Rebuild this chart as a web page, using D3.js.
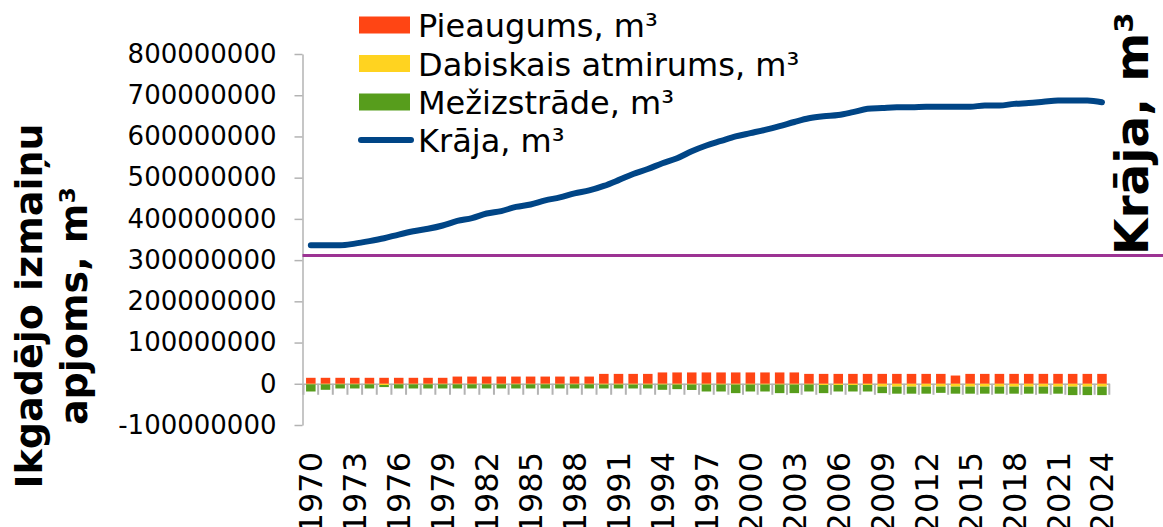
<!DOCTYPE html>
<html>
<head>
<meta charset="utf-8">
<script src="https://cdnjs.cloudflare.com/ajax/libs/d3/7.8.5/d3.min.js"></script>
<style>
    body { margin: 0; background: #ffffff; }
    svg { display: block; font-family: "DejaVu Sans", Verdana, sans-serif; }
</style>
</head>
<body>
<div id="chart"></div>
<script>
// 数据：年份（类别）
const years = [1970, 1971, 1972, 1973, 1974, 1975, 1976, 1977, 1978, 1979,
    1980, 1981, 1982, 1983, 1984, 1985, 1986, 1987, 1988, 1989,
    1990, 1991, 1992, 1993, 1994, 1995, 1996, 1997, 1998, 1999,
    2000, 2001, 2002, 2003, 2004, 2005, 2006, 2007, 2008, 2009,
    2010, 2011, 2012, 2013, 2014, 2015, 2016, 2017, 2018, 2019,
    2020, 2021, 2022, 2023, 2024];

// 每3年显示一个刻度标签
const labelYears = [1970, 1973, 1976, 1979, 1982, 1985, 1988, 1991, 1994, 1997,
    2000, 2003, 2006, 2009, 2012, 2015, 2018, 2021, 2024];

// Y轴刻度
const yTicks = [-100000000, 0, 100000000, 200000000, 300000000, 400000000,
    500000000, 600000000, 700000000, 800000000];

// Pieaugums, m³
const pieaugums = [14500000, 14500000, 14500000, 14500000, 14500000, 14500000, 14500000, 14500000, 14500000, 14500000,
    17500000, 17500000, 17500000, 17500000, 17500000, 17500000, 17500000, 17500000, 17500000, 17500000,
    24000000, 24000000, 24000000, 24000000, 27500000, 27500000, 27500000, 27500000, 27500000, 27500000,
    27500000, 27500000, 27500000, 27500000, 24000000, 24000000, 24000000, 24000000, 24000000, 24000000,
    24000000, 24000000, 24000000, 24000000, 20000000, 24000000, 24000000, 24000000, 24000000, 24000000,
    24000000, 24000000, 24000000, 24000000, 24000000];

// Dabiskais atmirums, m³
const atmirums = [-1500000, -1500000, -1500000, -1500000, -1500000, -3000000, -1500000, -1500000, -1500000, -1500000,
    -1500000, -1500000, -1500000, -1500000, -1500000, -1500000, -1500000, -1500000, -1500000, -1500000,
    -2000000, -2000000, -2000000, -2000000, -2000000, -2000000, -2000000, -2000000, -2000000, -2000000,
    -2000000, -2000000, -2000000, -2000000, -2000000, -3000000, -3000000, -3000000, -3000000, -7000000,
    -7000000, -7000000, -7000000, -7000000, -7000000, -7000000, -7000000, -7000000, -7000000, -7000000,
    -7000000, -7000000, -7000000, -7000000, -7000000];

// Mežizstrāde, m³
const mezizstrade = [-17200000, -13100000, -9900000, -9900000, -9900000, -5000000, -9900000, -9900000, -9900000, -9900000,
    -9900000, -9900000, -9900000, -9900000, -9900000, -9900000, -9900000, -9900000, -9900000, -9900000,
    -9400000, -9400000, -9400000, -9400000, -12600000, -11000000, -13000000, -16700000, -16700000, -20700000,
    -16700000, -16700000, -20700000, -20700000, -16700000, -19700000, -15700000, -15700000, -15700000, -15700000,
    -17000000, -17000000, -17000000, -15000000, -17000000, -17000000, -17000000, -17000000, -17000000, -17000000,
    -17000000, -17000000, -20500000, -20500000, -20500000];

// Krāja, m³
const kraja = [336000000, 336000000, 336000000, 340000000, 346000000, 353000000, 362000000, 370000000, 376000000, 384000000,
    395000000, 402000000, 413000000, 419000000, 429000000, 435000000, 445000000, 452000000, 462000000, 469000000,
    480000000, 494000000, 509000000, 521000000, 535000000, 547000000, 564000000, 578000000, 589000000, 600000000,
    608000000, 616000000, 625000000, 635000000, 644000000, 649000000, 652000000, 659000000, 667000000, 669000000,
    671000000, 671000000, 672000000, 672000000, 672000000, 672000000, 675000000, 675000000, 679000000, 681000000,
    684000000, 687000000, 687000000, 687000000, 683000000];

// 右侧（Krāja）轴的水平线位置
const krajaAssLinija = 311000000;

// 系列名称和颜色
const seriesKeys = ["pieaugums", "atmirums", "mezizstrade"];
const seriesNames = ["Pieaugums, m³", "Dabiskais atmirums, m³", "Mežizstrāde, m³"];
const seriesColors = ["#ff4514", "#ffd320", "#579d1c"];
const lineName = "Krāja, m³";
const lineColor = "#004586";

function drawChart(container) {
    d3.select(container).html("");

    const width = 1163, height = 527;
    const axisColor = "#b3b3b3";

    // 创建SVG
    const svg = d3.select(container)
        .append("svg")
        .attr("width", width)
        .attr("height", height);

    // X轴比例尺
    const x = d3.scaleBand()
        .domain(years)
        .range([303.5, 1109.3])
        .paddingInner(0.35)
        .paddingOuter(0.175);

    // Y轴比例尺
    const y = d3.scaleLinear()
        .domain([-100000000, 800000000])
        .range([425, 54]);

    // 堆叠数据
    const table = years.map((yr, i) => ({
        year: yr,
        pieaugums: pieaugums[i],
        atmirums: atmirums[i],
        mezizstrade: mezizstrade[i]
    }));
    const stacked = d3.stack()
        .keys(seriesKeys)
        .offset(d3.stackOffsetDiverging)(table);

    // Y轴
    const yAxis = svg.append("g")
        .attr("transform", "translate(302.5, 0)")
        .call(d3.axisLeft(y)
            .tickValues(yTicks)
            .tickSize(8)
            .tickSizeOuter(0)
            .tickPadding(18)
            .tickFormat(d => String(d)));
    yAxis.select(".domain").attr("stroke", axisColor).attr("stroke-width", 1.5);
    yAxis.selectAll(".tick line").attr("stroke", axisColor).attr("stroke-width", 1.5);
    yAxis.selectAll(".tick text")
        .attr("fill", "#000")
        .style("font-size", "26px")
        .style("font-family", "DejaVu Sans, sans-serif");

    // X轴（在零点处）
    const xAxis = svg.append("g")
        .attr("transform", `translate(0, ${y(0)})`)
        .call(d3.axisBottom(x)
            .tickValues(labelYears)
            .tickSize(0)
            .tickSizeOuter(0));
    xAxis.select(".domain").attr("stroke", axisColor).attr("stroke-width", 1.5);
    xAxis.selectAll(".tick text")
        .attr("x", 0)
        .attr("y", 0)
        .attr("dy", 0)
        .attr("fill", "#000")
        .attr("transform", `translate(11.5, ${452 - y(0)}) rotate(-90)`)
        .style("text-anchor", "end")
        .style("font-size", "32px")
        .style("font-family", "DejaVu Sans, sans-serif");

    // 类别分隔刻度线
    const step = x.step();
    const boundaries = years.map(yr => x(yr) - (step - x.bandwidth()) / 2).concat([x.range()[1]]);
    svg.append("g")
        .selectAll("line")
        .data(boundaries)
        .enter().append("line")
        .attr("x1", d => d)
        .attr("x2", d => d)
        .attr("y1", y(0))
        .attr("y2", y(0) + 11)
        .attr("stroke", axisColor)
        .attr("stroke-width", 2);

    // 堆叠柱状图
    svg.append("g")
        .selectAll("g")
        .data(stacked)
        .enter().append("g")
        .attr("fill", (d, i) => seriesColors[i])
        .selectAll("rect")
        .data(d => d)
        .enter().append("rect")
        .attr("x", d => x(d.data.year))
        .attr("y", d => y(Math.max(d[0], d[1])))
        .attr("width", x.bandwidth())
        .attr("height", d => Math.abs(y(d[0]) - y(d[1])));

    // 紫色水平线
    svg.append("line")
        .attr("x1", 302.5)
        .attr("x2", width)
        .attr("y1", y(krajaAssLinija))
        .attr("y2", y(krajaAssLinija))
        .attr("stroke", "#9c3393")
        .attr("stroke-width", 3);

    // Krāja 折线
    const line = d3.line()
        .x((d, i) => x(years[i]) + x.bandwidth() / 2)
        .y(d => y(d))
        .curve(d3.curveMonotoneX);

    svg.append("path")
        .datum(kraja)
        .attr("fill", "none")
        .attr("stroke", lineColor)
        .attr("stroke-width", 6)
        .attr("stroke-linecap", "round")
        .attr("stroke-linejoin", "round")
        .attr("d", line);

    // 图例
    const legendY = [25, 63.5, 102, 140];
    const legend = svg.append("g");
    seriesNames.forEach((name, i) => {
        legend.append("rect")
            .attr("x", 359)
            .attr("y", legendY[i] - 8.5)
            .attr("width", 51)
            .attr("height", 17)
            .attr("fill", seriesColors[i]);
        legend.append("text")
            .attr("x", 418)
            .attr("y", legendY[i] + 12)
            .style("font-size", "32px")
            .text(name);
    });
    legend.append("line")
        .attr("x1", 361)
        .attr("x2", 411)
        .attr("y1", legendY[3])
        .attr("y2", legendY[3])
        .attr("stroke", lineColor)
        .attr("stroke-width", 6)
        .attr("stroke-linecap", "round");
    legend.append("text")
        .attr("x", 418)
        .attr("y", legendY[3] + 12)
        .style("font-size", "32px")
        .text(lineName);

    // 左侧Y轴标题（两行）
    const leftTitle = svg.append("text")
        .attr("transform", "translate(0, 306) rotate(-90)")
        .attr("text-anchor", "middle")
        .style("font-size", "38px")
        .style("font-weight", "bold");
    leftTitle.append("tspan").attr("x", 0).attr("y", 42).text("Ikgadējo izmaiņu");
    leftTitle.append("tspan").attr("x", 0).attr("y", 87).text("apjoms, m³");

    // 右侧Y轴标题
    svg.append("text")
        .attr("transform", "translate(1148, 255) rotate(-90)")
        .attr("text-anchor", "start")
        .style("font-size", "47px")
        .style("font-weight", "bold")
        .text("Krāja, m³");
}

drawChart("#chart");
</script>
</body>
</html>
